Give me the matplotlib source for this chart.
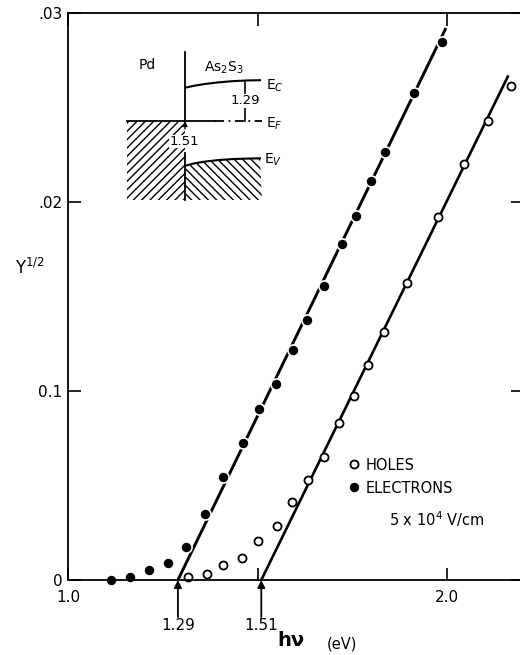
import numpy as np
import matplotlib
matplotlib.use("Agg")
import matplotlib.pyplot as plt
from matplotlib.patches import Polygon

# --- data ---
elec_x = [1.113, 1.164, 1.214, 1.265, 1.311, 1.362, 1.410, 1.462, 1.504, 1.548,
          1.593, 1.631, 1.675, 1.724, 1.760, 1.799, 1.836, 1.914, 1.986]
elec_y = [0.0000, 0.00014, 0.00055, 0.00088, 0.00175, 0.00348, 0.00543, 0.00727, 0.00906, 0.01037,
          0.01217, 0.01374, 0.01554, 0.01776, 0.01924, 0.02110, 0.02265, 0.02578, 0.02848]

hole_x = [1.316, 1.368, 1.408, 1.458, 1.502, 1.551, 1.592, 1.634, 1.675, 1.716,
          1.754, 1.791, 1.834, 1.895, 1.977, 2.044, 2.109, 2.170]
hole_y = [0.00016, 0.00033, 0.00078, 0.00116, 0.00206, 0.00287, 0.00413, 0.00529, 0.00649, 0.00829,
          0.00974, 0.01138, 0.01314, 0.01573, 0.01919, 0.02201, 0.02427, 0.02615]

# straight-line fits (threshold -> top end)
elec_fit_x = [1.29, 1.997]
elec_fit_y = [0.0, 0.0292]
hole_fit_x = [1.51, 2.162]
hole_fit_y = [0.0, 0.0267]

thresholds = [1.29, 1.51]

xtick_vals = [1.0, 1.5, 2.0]
xtick_labels = ["1.0", "", "2.0"]
ytick_vals = [0.0, 0.01, 0.02, 0.03]
ytick_labels = ["0", "0.1", ".02", ".03"]

W, H = 520, 655
fig = plt.figure(figsize=(W / 100, H / 100), dpi=100)
ax = fig.add_axes([68 / W, 75 / H, 454.8 / W, 567 / H])

ax.plot(elec_fit_x, elec_fit_y, color="black", lw=2.1, zorder=2, solid_capstyle="butt")
ax.plot(hole_fit_x, hole_fit_y, color="black", lw=1.9, zorder=2, solid_capstyle="butt")
ax.plot(hole_x, hole_y, "o", ls="none", ms=5.8, mfc="white", mec="black", mew=1.3,
        zorder=3, clip_on=False, label="HOLES")
ax.plot(elec_x, elec_y, "o", ls="none", ms=8, mfc="black", mec="white", mew=1.2,
        zorder=3, clip_on=False, label="ELECTRONS")

ax.set_xlim(1.0, 2.2)
ax.set_ylim(0, 0.03)
ax.set_xticks(xtick_vals)
ax.set_xticklabels(xtick_labels)
ax.set_yticks(ytick_vals)
ax.set_yticklabels(ytick_labels)
ax.tick_params(direction="in", length=9, width=1.2, top=True, right=True, labelsize=11)
ax.tick_params(axis="x", pad=7)
ax.tick_params(axis="y", pad=4)
for s in ax.spines.values():
    s.set_linewidth(1.3)
    s.set_zorder(4)

# threshold arrows below the axis
for t in thresholds:
    ax.annotate("", xy=(t, 0), xytext=(t, -0.00196),
                arrowprops=dict(arrowstyle="-|>", color="black", lw=1.3,
                                mutation_scale=11, shrinkA=0, shrinkB=0),
                annotation_clip=False)
    ax.text(t, -0.00243, f"{t:.2f}", ha="center", va="center", fontsize=11)

ax.text(1.588, -0.00349, "h\u03bd", ha="center", va="baseline", fontsize=14, fontweight="bold")
ax.text(1.723, -0.00365, "(eV)", ha="center", va="baseline", fontsize=10.5)
fig.text(30 / W, (H - 268) / H, "Y$^{1/2}$", ha="center", va="center", fontsize=12)

leg = ax.legend(loc="center left", bbox_to_anchor=(0.619, 0.1825), frameon=False,
                handlelength=0.6, handletextpad=0.5, labelspacing=0.55,
                borderpad=0, borderaxespad=0, fontsize=10.5)
ax.text(0.706, 0.108, "5 x 10$^4$ V/cm", transform=ax.transAxes, ha="left", va="center",
        fontsize=10.5)

# --- inset band diagram (pixel-like coordinates) ---
ins = fig.add_axes([110 / W, (H - 210) / H, 180 / W, 170 / H])
ins.set_xlim(110, 290)
ins.set_ylim(210, 40)
ins.axis("off")

ef_y = 121
ec_x = [186, 195, 205, 218, 232, 246, 260]
ec_y = [87.5, 85.6, 84.0, 82.4, 81.2, 80.5, 80.2]
ev_x = [186, 195, 205, 218, 232, 246, 260]
ev_y = [165.5, 163.2, 161.6, 160.1, 159.1, 158.6, 158.3]

left_hatch = Polygon([(127, ef_y), (185, ef_y), (185, 200), (127, 200)], closed=True,
                     fill=False, hatch="////", lw=0, edgecolor="black")
ins.add_patch(left_hatch)
right_pts = list(zip(ev_x, ev_y)) + [(262, 200), (186, 200)]
right_hatch = Polygon(right_pts, closed=True, fill=False, hatch="\\\\\\\\", lw=0,
                      edgecolor="black")
ins.add_patch(right_hatch)

ins.plot([185, 185], [52, ef_y], color="black", lw=1.3)
ins.plot([185, 185], [153, 200], color="black", lw=1.3)
ins.annotate("", xy=(185, ef_y), xytext=(185, 129),
             arrowprops=dict(arrowstyle="-|>", color="black", lw=1.0,
                             mutation_scale=7, shrinkA=0, shrinkB=0))
ins.plot(ec_x, ec_y, color="black", lw=1.5)
ins.plot(ev_x, ev_y, color="black", lw=1.5)
ins.plot([127, 215], [ef_y, ef_y], color="black", lw=1.3)
ins.plot([215, 262], [ef_y, ef_y], color="black", lw=1.3, ls=(0, (5, 2.5, 1, 2.5)))
ins.plot([245, 245], [82, ef_y], color="black", lw=1.2)
ins.text(245, 101, "1.29", ha="center", va="center", fontsize=9.5,
         bbox=dict(facecolor="white", edgecolor="none", pad=0.5))
ins.text(184, 141.5, "1.51", ha="center", va="center", fontsize=9.5,
         bbox=dict(facecolor="white", edgecolor="none", pad=0.3))
ins.text(147, 65, "Pd", ha="center", va="center", fontsize=10)
ins.text(224, 68, "As$_2$S$_3$", ha="center", va="center", fontsize=10)
ins.text(266, 86, "E$_C$", ha="left", va="center", fontsize=10)
ins.text(266, 124, "E$_F$", ha="left", va="center", fontsize=10)
ins.text(264, 160, "E$_V$", ha="left", va="center", fontsize=10)

fig.savefig("out.png", dpi=100)
